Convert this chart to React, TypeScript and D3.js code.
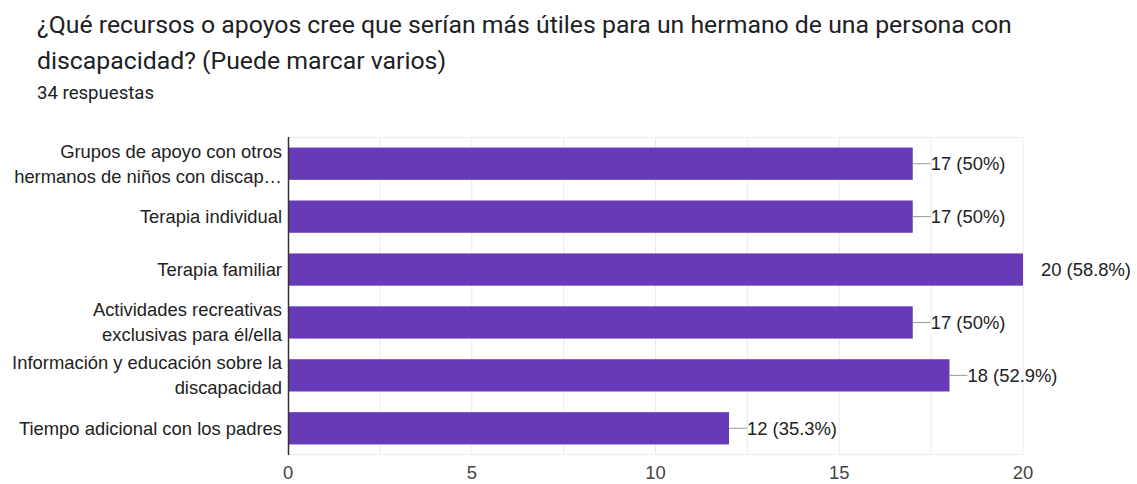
import { useEffect, useRef } from 'react'
import * as d3 from 'd3'

const categories = [
  ['Grupos de apoyo con otros', 'hermanos de niños con discap…'],
  ['Terapia individual'],
  ['Terapia familiar'],
  ['Actividades recreativas', 'exclusivas para él/ella'],
  ['Información y educación sobre la', 'discapacidad'],
  ['Tiempo adicional con los padres'],
]
const counts = [17, 17, 20, 17, 18, 12]
const percents = ['50%', '50%', '58.8%', '50%', '52.9%', '35.3%']
const xTicks = [0, 5, 10, 15, 20]
const gridTicks = [2.5, 5, 7.5, 10, 12.5, 15, 17.5, 20]

const titleLines = [
  '¿Qué recursos o apoyos cree que serían más útiles para un hermano de una persona con',
  'discapacidad? (Puede marcar varios)',
]
const subtitle = '34 respuestas'

const W = 1137
const H = 484

export default function App() {
  const svgRef = useRef<SVGSVGElement>(null)

  useEffect(() => {
    if (!svgRef.current) return
    const svg = d3.select(svgRef.current)
    svg.selectAll('*').remove()

    const titleFont = 'Roboto, Arial, sans-serif'
    const font = '"Liberation Sans", Arial, sans-serif'
    const margin = { top: 137, right: 114, bottom: 29, left: 288 }
    const innerW = W - margin.left - margin.right
    const innerH = H - margin.top - margin.bottom

    svg.append('rect').attr('width', W).attr('height', H).attr('fill', '#fff')

    // titles
    svg.selectAll('.title')
      .data(titleLines)
      .enter().append('text')
      .attr('x', 37)
      .attr('y', (_, i) => 33 + i * 35.5)
      .attr('font-family', titleFont)
      .attr('font-size', 24.8)
      .attr('fill', '#202124')
      .text(d => d)

    svg.append('text')
      .attr('x', 37)
      .attr('y', 99)
      .attr('font-family', titleFont)
      .attr('font-size', 18.6)
      .attr('fill', '#202124')
      .text(subtitle)

    const g = svg.append('g').attr('transform', `translate(${margin.left},${margin.top})`)

    const x = d3.scaleLinear().domain([0, 20]).range([0, innerW])
    const y = d3.scaleBand<number>()
      .domain(d3.range(counts.length))
      .range([0, innerH])
      .paddingInner(0.39)
      .paddingOuter(0.2)

    // grid
    g.append('line')
      .attr('x1', 0).attr('x2', innerW).attr('y1', 0.5).attr('y2', 0.5)
      .attr('stroke', '#ebebeb')
    g.append('line')
      .attr('x1', 0).attr('x2', innerW).attr('y1', innerH - 0.5).attr('y2', innerH - 0.5)
      .attr('stroke', '#ebebeb')
    g.selectAll('.grid')
      .data(gridTicks)
      .enter().append('line')
      .attr('x1', d => x(d)).attr('x2', d => x(d))
      .attr('y1', 0).attr('y2', innerH)
      .attr('stroke', '#ebebeb')

    // bars
    g.selectAll('.bar')
      .data(counts)
      .enter().append('rect')
      .attr('x', 0)
      .attr('y', (_, i) => y(i)!)
      .attr('width', d => x(d))
      .attr('height', y.bandwidth())
      .attr('fill', '#673ab7')

    // axis line
    g.append('line')
      .attr('x1', 0.5).attr('x2', 0.5).attr('y1', 0).attr('y2', innerH)
      .attr('stroke', '#333').attr('stroke-width', 1.5)

    // value labels
    counts.forEach((d, i) => {
      const cy = y(i)! + y.bandwidth() / 2
      const max = d === d3.max(counts)
      if (!max) {
        g.append('line')
          .attr('x1', x(d)).attr('x2', x(d) + 18)
          .attr('y1', cy).attr('y2', cy)
          .attr('stroke', '#999')
      }
      g.append('text')
        .attr('x', x(d) + 18)
        .attr('y', cy)
        .attr('dy', '0.35em')
        .attr('font-family', font)
        .attr('font-size', 18.4)
        .attr('fill', '#222')
        .text(`${d} (${percents[i]})`)
    })

    // category labels
    categories.forEach((lines, i) => {
      const cy = y(i)! + y.bandwidth() / 2
      const t = g.append('text')
        .attr('x', -6)
        .attr('text-anchor', 'end')
        .attr('font-family', font)
        .attr('font-size', 18.4)
        .attr('fill', '#222')
      lines.forEach((l, j) => {
        t.append('tspan')
          .attr('x', -6)
          .attr('y', cy + (j - (lines.length - 1) / 2) * 25)
          .attr('dy', '0.35em')
          .text(l)
      })
    })

    // x tick labels
    g.selectAll('.tick')
      .data(xTicks)
      .enter().append('text')
      .attr('x', d => x(d))
      .attr('y', innerH + 24)
      .attr('text-anchor', 'middle')
      .attr('font-family', font)
      .attr('font-size', 18.4)
      .attr('fill', '#444')
      .text(d => d)
  }, [])

  return <svg ref={svgRef} width={W} height={H} style={{ display: 'block', position: 'absolute', left: 0, top: 0 }} />
}
